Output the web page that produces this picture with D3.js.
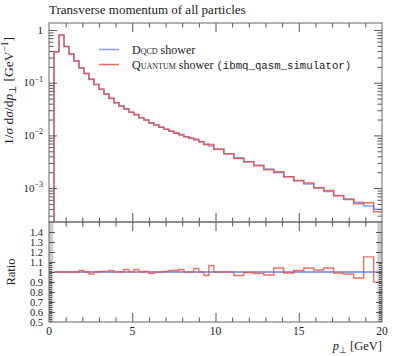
<!DOCTYPE html>
<html><head><meta charset="utf-8">
<script src="https://cdn.jsdelivr.net/npm/d3@7"></script>
<style>
body{margin:0;background:#fff}
text{font-family:"Liberation Serif","Times New Roman",serif;fill:#222}
.mono{font-family:"Liberation Mono","DejaVu Sans Mono",monospace}
</style>
</head><body><svg id="c" width="395" height="356"></svg>
<script>
// ---- data ----
const binEdges = [0.3,0.6,0.9,1.2,1.5,1.8,2.1,2.4,2.7,3.0,3.3,3.6,3.9,4.2,4.5,4.8,5.1,5.4,5.7,6.0,6.3,6.6,6.9,7.2,7.5,7.8,8.1,8.4,8.7,9.0,9.3,9.6,9.9,
  10.5,11.1,11.7,12.3,12.9,13.5,14.1,14.7,15.3,15.9,16.5,17.1,17.7,18.3,18.9,19.5,20.1];
const dqcdValues = [0.388,0.804,0.486,0.350,0.258,0.190,0.1495,0.1175,0.0924,0.0749,0.0610,0.0501,0.0417,0.0361,0.0313,0.0274,
  0.0244,0.0217,0.0196,0.0174,0.01575,0.01425,0.01305,0.01196,0.01096,0.01018,0.00945,0.00881,0.00818,0.00759,0.00687,0.00629,
  0.00545,0.00450,0.00377,0.00317,0.00271,0.00230,0.00196,0.00165,0.00138,0.00120,0.00100,0.000862,0.000724,0.000621,0.000538,0.000457,0.000396];
const quantumValues = [0.388,0.804,0.486,0.350,0.258,0.1929,0.1495,0.11515,0.0924,0.07527,0.06131,0.05085,0.0417,0.0361,0.03208,0.0274,
  0.02501,0.0217,0.0197,0.01714,0.01575,0.01425,0.013115,0.012139,0.011124,0.010435,0.00945,0.00881,0.008466,0.00759,0.006630,0.006699,
  0.00545,0.00450,0.003638,0.003154,0.002669,0.002231,0.002038,0.001634,0.001401,0.001248,0.00102,0.000896,0.000717,0.000609,0.000506,0.000526,0.000356];
const bandRanges = [[0,0.26],[19.72,20]];
const xMajorTicks = [0,5,10,15,20];
const yMainMajor = [1,0.1,0.01,0.001];
const yMainLabels = [["1",""],["10","−1"],["10","−2"],["10","−3"]];
const yRatioMajor = [0.5,0.6,0.7,0.8,0.9,1.0,1.1,1.2,1.3,1.4];
const yRatioLabels = ["0.5","0.6","0.7","0.8","0.9","1","1.1","1.2","1.3","1.4"];

// ---- layout ----
const L=49,R=382,T=23,MB=222,RB=322;
const svg=d3.select("#c");
const x=d3.scaleLinear().domain([0,20]).range([L,R]);
const y=d3.scaleLog().domain([2.275e-4,1.358]).range([MB,T]);
const yr=d3.scaleLinear().domain([0.5,1.5]).range([RB,MB]);
const blue="#6d8cf5", red="#ef4a3f", tickC="#555";

const defs=svg.append("defs");
defs.append("clipPath").attr("id","cm").append("rect").attr("x",L).attr("y",T).attr("width",R-L).attr("height",MB-T);
defs.append("clipPath").attr("id","cr").append("rect").attr("x",L).attr("y",MB).attr("width",R-L).attr("height",RB-MB);

// bands in ratio panel
svg.append("g").attr("clip-path","url(#cr)").selectAll("rect").data(bandRanges).join("rect")
  .attr("x",d=>x(d[0])).attr("width",d=>x(d[1])-x(d[0])).attr("y",yr(1.5)).attr("height",yr(0.5)-yr(1.5)).attr("fill","#cccccc");

function stepPath(vals,ys,base){
  let p="M"+x(binEdges[0])+","+base;
  vals.forEach((v,i)=>{p+="L"+x(binEdges[i])+","+ys(v)+"L"+x(binEdges[i+1])+","+ys(v);});
  return p;
}
const gm=svg.append("g").attr("clip-path","url(#cm)");
gm.append("path").attr("d",stepPath(dqcdValues,y,MB+2)).attr("fill","none").attr("stroke",blue).attr("stroke-width",1.5).attr("opacity",0.85);
gm.append("path").attr("d",stepPath(quantumValues,y,MB+2)).attr("fill","none").attr("stroke",red).attr("stroke-width",1.5).attr("opacity",0.8);

const ratioValues=quantumValues.map((q,i)=>q/dqcdValues[i]);
const gr=svg.append("g").attr("clip-path","url(#cr)");
gr.append("line").attr("x1",x(binEdges[0])).attr("x2",R).attr("y1",yr(1)).attr("y2",yr(1)).attr("stroke",blue).attr("stroke-width",1.8).attr("opacity",0.8);
function stepPathNoBase(vals,ys){
  let p="";
  vals.forEach((v,i)=>{p+=(i?"L":"M")+x(binEdges[i])+","+ys(v)+"L"+x(binEdges[i+1])+","+ys(v);});
  return p;
}
gr.append("path").attr("d",stepPathNoBase(ratioValues,yr)).attr("fill","none").attr("stroke",red).attr("stroke-width",1.4).attr("opacity",0.8);

// ---- ticks ----
const xMinor=d3.range(0,21,1).filter(v=>v%5!==0);
function xt(yPos,dir){
  const mk=(vals,len)=>{
    const ax=(dir>0?d3.axisBottom(x):d3.axisTop(x)).tickValues(vals).tickSize(len).tickFormat("");
    const g=svg.append("g").attr("transform",`translate(0,${yPos})`).call(ax);
    g.select(".domain").remove(); g.selectAll("line").attr("stroke",tickC);
  };
  mk(xMajorTicks.filter(v=>v>0&&v<20),9); mk(xMinor,4.5);
}
xt(T,1); xt(MB,-1); xt(MB,1); xt(RB,-1);

const yMinor=[];
[-4,-3,-2,-1,0].forEach(e=>{for(let k=2;k<10;k++){const v=k*Math.pow(10,e); if(v>2.275e-4&&v<1.358) yMinor.push(v);}});
function yt(scale,xPos,dir,major,minor,lm,ln){
  const mk=(vals,len)=>{
    const ax=(dir>0?d3.axisRight(scale):d3.axisLeft(scale)).tickValues(vals).tickSize(len).tickFormat("");
    const g=svg.append("g").attr("transform",`translate(${xPos},0)`).call(ax);
    g.select(".domain").remove(); g.selectAll("line").attr("stroke",tickC);
  };
  mk(major,lm); mk(minor,ln);
}
yt(y,L,1,yMainMajor,yMinor,8,4.5); yt(y,R,-1,yMainMajor,yMinor,8,4.5);
const rMinor=d3.range(51,110,2).map(v=>v/100).filter(v=>Math.abs(v*10-Math.round(v*10))>1e-6);
yt(yr,L,1,yRatioMajor.slice(1),rMinor,6,3); yt(yr,R,-1,yRatioMajor.slice(1),rMinor,6,3);

// frames
[[T,MB],[MB,RB]].forEach(([a,b])=>svg.append("rect").attr("x",L).attr("y",a).attr("width",R-L).attr("height",b-a)
  .attr("fill","none").attr("stroke","#666").attr("stroke-width",1));

// ---- labels ----
svg.append("text").attr("x",L).attr("y",14).attr("font-size",13).text("Transverse momentum of all particles");

const ymL=svg.append("g");
yMainMajor.forEach((v,i)=>{
  const t=ymL.append("text").attr("x",43).attr("y",y(v)+3.5).attr("text-anchor","end").attr("font-size",11);
  t.append("tspan").text(yMainLabels[i][0]);
  if(yMainLabels[i][1]) t.append("tspan").attr("font-size",8).attr("dy",-4.5).text(yMainLabels[i][1]);
});
yRatioMajor.forEach((v,i)=>{
  svg.append("text").attr("x",43).attr("y",yr(v)+3.5).attr("text-anchor","end").attr("font-size",10.5).text(yRatioLabels[i]);
});
xMajorTicks.forEach(v=>{
  svg.append("text").attr("x",x(v)).attr("y",334.5).attr("text-anchor","middle").attr("font-size",11.5).text(v);
});
const xl=svg.append("text").attr("x",R).attr("y",350).attr("text-anchor","end").attr("font-size",12.5);
xl.append("tspan").attr("font-style","italic").text("p");
xl.append("tspan").attr("font-size",9).attr("dy",2.5).text("⊥");
xl.append("tspan").attr("dy",-2.5).text(" [GeV]");

const yl=svg.append("text").attr("transform","translate(13,91) rotate(-90)").attr("text-anchor","middle").attr("font-size",13.5);
yl.append("tspan").text("1/");
yl.append("tspan").attr("font-style","italic").text("σ");
yl.append("tspan").text(" d");
yl.append("tspan").attr("font-style","italic").text("σ");
yl.append("tspan").text("/d");
yl.append("tspan").attr("font-style","italic").text("p");
yl.append("tspan").attr("font-size",9.5).attr("dy",2.5).text("⊥");
yl.append("tspan").attr("dy",-2.5).text(" [GeV");
yl.append("tspan").attr("font-size",9.5).attr("dy",-5).text("−1");
yl.append("tspan").attr("dy",5).text("]");

svg.append("text").attr("transform","translate(15,272) rotate(-90)").attr("text-anchor","middle").attr("font-size",12.5).text("Ratio");

// legend
const legend=[{c:blue,y:49.5,parts:[["Dqcd","sc"],[" shower",""]]},
              {c:red,y:64.5,parts:[["Quantum","sc"],[" shower ",""],["(ibmq_qasm_simulator)","mono"]]}];
legend.forEach(d=>{
  svg.append("line").attr("x1",99).attr("x2",119).attr("y1",d.y).attr("y2",d.y).attr("stroke",d.c).attr("stroke-width",1.5).attr("opacity",0.85);
  const t=svg.append("text").attr("x",132).attr("y",d.y+4).attr("font-size",12);
  d.parts.forEach(p=>{
    const s=t.append("tspan").text(p[0]);
    if(p[1]==="sc") s.style("font-variant","small-caps");
    if(p[1]==="mono") s.attr("class","mono").attr("font-size",10.7);
  });
});
</script></body></html>
